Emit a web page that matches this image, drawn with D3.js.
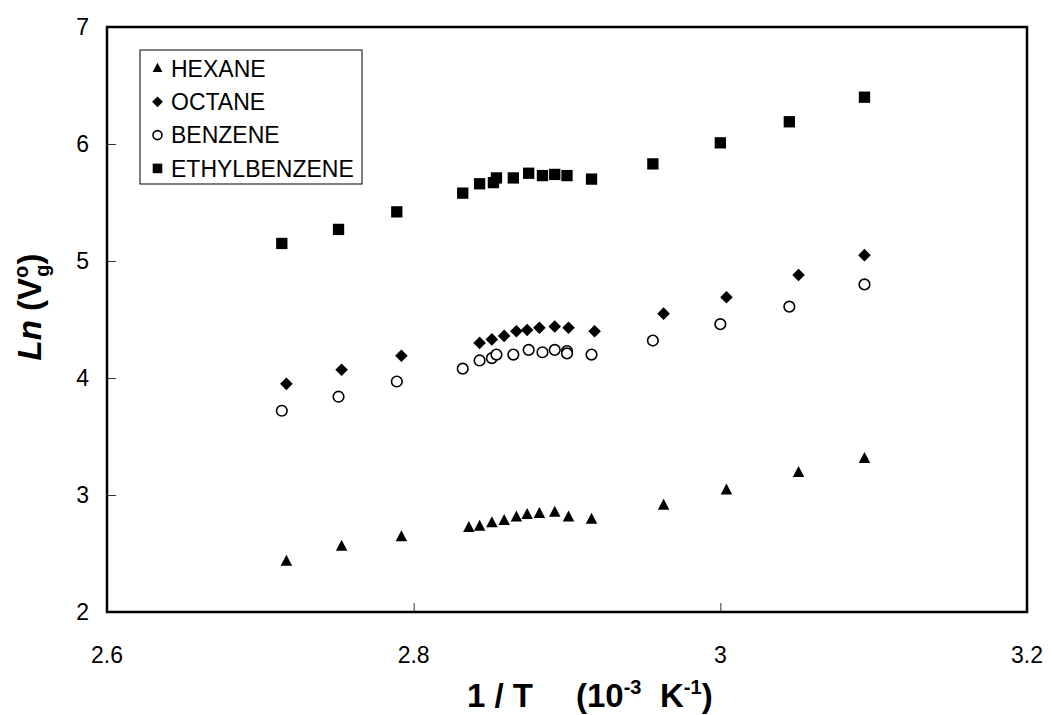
<!DOCTYPE html>
<html><head><meta charset="utf-8">
<script src="https://cdn.jsdelivr.net/npm/d3@7"></script>
<style>
body{margin:0;background:#fff;}
text{font-family:Arial,"Liberation Sans",sans-serif;}
</style></head>
<body><svg id="c" width="1052" height="715"></svg>
<script>
// ---- data ----
const hexaneX = [2.717,2.753,2.792,2.836,2.843,2.851,2.859,2.867,2.874,2.882,2.892,2.901,2.916,2.963,3.004,3.051,3.094];
const hexaneY = [2.43,2.56,2.64,2.72,2.73,2.76,2.78,2.81,2.83,2.84,2.85,2.81,2.79,2.91,3.04,3.19,3.31];
const octaneX = [2.717,2.753,2.792,2.843,2.851,2.859,2.867,2.874,2.882,2.892,2.901,2.918,2.963,3.004,3.051,3.094];
const octaneY = [3.95,4.07,4.19,4.30,4.33,4.36,4.40,4.41,4.43,4.44,4.43,4.40,4.55,4.69,4.88,5.05];
const benzeneX = [2.714,2.751,2.789,2.832,2.843,2.851,2.854,2.865,2.875,2.884,2.892,2.900,2.900,2.916,2.956,3.000,3.045,3.094];
const benzeneY = [3.72,3.84,3.97,4.08,4.15,4.17,4.20,4.20,4.24,4.22,4.24,4.23,4.21,4.20,4.32,4.46,4.61,4.80];
const ethylX = [2.714,2.751,2.789,2.832,2.843,2.852,2.854,2.865,2.875,2.884,2.892,2.900,2.916,2.956,3.000,3.045,3.094];
const ethylY = [5.15,5.27,5.42,5.58,5.66,5.67,5.71,5.71,5.75,5.73,5.74,5.73,5.70,5.83,6.01,6.19,6.40];
const seriesNames = ["HEXANE","OCTANE","BENZENE","ETHYLBENZENE"];
const xTicks = [2.6,2.8,3.0,3.2];
const yTicks = [2,3,4,5,6,7];

// ---- layout ----
const svg = d3.select("#c");
const L=107, R=1027, T=27, B=612;
const x = d3.scaleLinear().domain([2.6,3.2]).range([L,R]);
const y = d3.scaleLinear().domain([2,7]).range([B,T]);

// ticks (inward)
const gx = svg.append("g").attr("transform",`translate(0,${B})`)
  .call(d3.axisTop(x).tickValues(xTicks).tickSize(9).tickFormat(""));
gx.select(".domain").remove();
gx.selectAll("line").attr("stroke","#333").attr("stroke-width",1);
const gy = svg.append("g").attr("transform",`translate(${L},0)`)
  .call(d3.axisRight(y).tickValues(yTicks).tickSize(9).tickFormat(""));
gy.select(".domain").remove();
gy.selectAll("line").attr("stroke","#333").attr("stroke-width",1);

// tick labels
const fmt = d => d===3 ? "3" : d3.format(".1f")(d);
svg.selectAll(".xl").data(xTicks).enter().append("text")
  .attr("x",d=>x(d)).attr("y",663).attr("text-anchor","middle")
  .attr("font-size",23).text(fmt);
svg.selectAll(".yl").data(yTicks).enter().append("text")
  .attr("x",89).attr("y",d=>y(d)+8.2).attr("text-anchor","end")
  .attr("font-size",23).text(d=>d);

// frame
svg.append("rect").attr("x",L).attr("y",T).attr("width",R-L).attr("height",B-T)
  .attr("fill","none").attr("stroke","#000").attr("stroke-width",2.5);

// markers
function diamond(s){ return `M0,${-s}L${s},0L0,${s}L${-s},0Z`; }
function drawMark(g, name, cx, cy, scale){
  scale = scale||1;
  let p;
  if(name==="HEXANE"){ const h=11*scale, w=11.5*scale; p=g.append("path").attr("d",`M0,${-h*0.62}L${w/2},${h*0.38}L${-w/2},${h*0.38}Z`).attr("fill","#000"); }
  else if(name==="OCTANE"){ p=g.append("path").attr("d",diamond(6.3*scale)).attr("fill","#000"); }
  else if(name==="BENZENE"){ p=g.append("circle").attr("r",5.3*scale).attr("fill","#fff").attr("stroke","#000").attr("stroke-width",1.6); }
  else { const s=11.3*scale; p=g.append("rect").attr("x",-s/2).attr("y",-s/2).attr("width",s).attr("height",s).attr("fill","#000"); }
  p.attr("transform",`translate(${cx},${cy})`);
}
const data = [
  ["HEXANE",hexaneX,hexaneY],["OCTANE",octaneX,octaneY],
  ["BENZENE",benzeneX,benzeneY],["ETHYLBENZENE",ethylX,ethylY]
];
const gm = svg.append("g");
data.forEach(([n,xs,ys])=>{
  xs.forEach((xv,i)=>drawMark(gm,n,x(xv),y(ys[i])));
});

// legend
svg.append("rect").attr("x",140).attr("y",50).attr("width",222).attr("height",134)
  .attr("fill","#fff").attr("stroke","#000").attr("stroke-width",1);
seriesNames.forEach((n,i)=>{
  const cy = 68.5 + i*33.3;
  drawMark(svg,n,157.5,cy,0.85);
  svg.append("text").attr("x",171).attr("y",cy+8.2).attr("font-size",23).text(n);
});

// x title
const xt = svg.append("text").attr("x",467).attr("y",707)
  .attr("font-size",33).attr("font-weight","bold").style("white-space","pre");
xt.append("tspan").text("1 / T");
xt.append("tspan").attr("x",576).text("(10");
xt.append("tspan").attr("dy",-13).attr("font-size",20).text("-3");
xt.append("tspan").attr("dy",13).attr("x",660).text("K");
xt.append("tspan").attr("dy",-13).attr("font-size",20).text("-1");
xt.append("tspan").attr("dy",13).text(")");

// y title
const yt = svg.append("text").attr("transform","translate(41,307) rotate(-90)")
  .attr("text-anchor","middle").attr("font-size",33).attr("font-weight","bold").style("white-space","pre");
yt.append("tspan").attr("font-style","italic").text("Ln");
yt.append("tspan").text(" (V");
yt.append("tspan").attr("dy",-13).attr("font-size",20).text("o");
yt.append("tspan").attr("dy",21).attr("dx",-11).attr("font-size",20).text("g");
yt.append("tspan").attr("dy",-8).text(")");
</script></body></html>
